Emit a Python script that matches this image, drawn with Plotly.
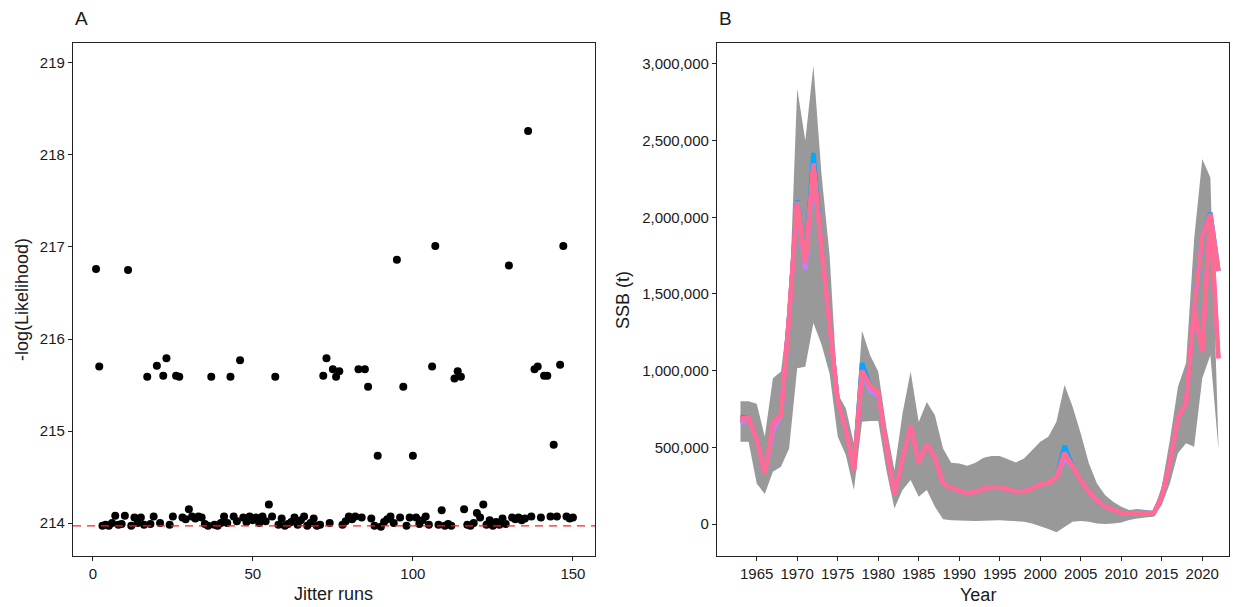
import plotly.graph_objects as go

# ---------------- Panel A data ----------------
jitter_runs = list(range(1, 151))
neg_log_like = [
    216.76, 215.70, 213.97, 213.98, 213.97, 214.00, 214.08, 213.98, 213.99, 214.08,
    216.75, 213.97, 214.06, 214.00, 214.06, 213.98, 215.59, 213.99, 214.07, 215.71,
    214.00, 215.60, 215.79, 213.98, 214.07, 215.60, 215.59, 214.06, 214.04, 214.15,
    214.07, 214.05, 214.07, 214.06, 213.99, 213.97, 215.59, 213.98, 213.97, 214.00,
    214.07, 214.00, 215.59, 214.07, 214.02, 215.77, 214.06, 214.01, 214.07, 214.03,
    214.06, 214.00, 214.07, 214.02, 214.20, 214.07, 215.59, 213.98, 214.05, 213.97,
    213.99, 214.01, 214.06, 213.98, 214.03, 214.07, 213.97, 214.00, 214.05, 213.97,
    213.98, 215.60, 215.79, 214.00, 215.67, 215.59, 215.65, 213.98, 214.02, 214.07,
    214.04, 214.07, 215.67, 214.06, 215.67, 215.48, 214.05, 213.97, 214.73, 213.96,
    214.01, 214.04, 214.07, 214.00, 216.86, 214.06, 215.48, 213.97, 214.06, 214.73,
    214.06, 213.99, 214.03, 214.07, 213.98, 215.70, 217.01, 213.98, 214.14, 213.97,
    213.99, 213.97, 215.57, 215.65, 215.59, 214.15, 213.98, 213.97, 214.00, 214.11,
    214.06, 214.20, 213.98, 214.03, 213.97, 214.01, 213.98, 214.05, 213.99, 216.80,
    214.06, 214.04, 214.06, 214.03, 214.05, 218.26, 214.07, 215.67, 215.70, 214.06,
    215.60, 215.60, 214.07, 214.85, 214.07, 215.72, 217.01, 214.07, 214.05, 214.06,
]
min_nll = 213.97
a_xticks = [0, 50, 100, 150]
a_yticks = [214, 215, 216, 217, 218, 219]

# ---------------- Panel B data ----------------
years = list(range(1963, 2023))
ssb_main = [
    690000, 690000, 550000, 330000, 660000, 710000, 1350000, 2100000, 1700000, 2350000,
    1800000, 1280000, 800000, 620000, 350000, 1000000, 900000, 860000, 500000, 195000,
    420000, 640000, 400000, 520000, 430000, 265000, 235000, 215000, 200000, 210000,
    230000, 240000, 238000, 228000, 212000, 215000, 232000, 258000, 268000, 305000,
    465000, 375000, 285000, 210000, 155000, 113000, 90000, 74000, 65000, 72000,
    72000, 70000, 178000, 400000, 690000, 790000, 1400000, 1880000, 2020000, 1650000,
]
# alternative runs that differ in a few years
ssb_alt_changes = {2020: 1130000, 2022: 1080000}
ssb_blue_changes = {1963: 700000, 1970: 2110000, 1972: 2420000, 1978: 1050000,
                    2003: 510000, 2021: 2030000}
ssb_purple_changes = {1963: 660000, 1971: 1660000, 1972: 2310000, 1979: 870000,
                      1980: 840000, 2003: 430000, 1967: 610000}

ci_upper = [
    800000, 800000, 785000, 570000, 950000, 995000, 1420000, 2840000, 2500000, 2990000,
    2280000, 1750000, 850000, 755000, 525000, 1260000, 1100000, 995000, 635000, 350000,
    720000, 995000, 665000, 795000, 710000, 493000, 400000, 395000, 380000, 400000,
    432000, 443000, 443000, 421000, 402000, 428000, 482000, 537000, 569000, 667000,
    906000, 765000, 591000, 396000, 265000, 189000, 145000, 113000, 91000, 98000,
    91000, 87000, 243000, 548000, 895000, 1050000, 1860000, 2380000, 2260000, 510000,
]
ci_lower = [
    537000, 537000, 265000, 196000, 341000, 374000, 493000, 1015000, 1025000, 1310000,
    1170000, 980000, 570000, 450000, 222000, 667000, 671000, 671000, 352000, 102000,
    222000, 287000, 178000, 222000, 113000, 31000, 24000, 22000, 18000, 20000,
    22000, 24000, 24000, 22000, 18000, 15000, 4000, -13000, -33000, -54000,
    -17000, 15000, 20000, 15000, 4000, 0, 4000, 10000, 26000, 37000,
    43000, 48000, 124000, 265000, 461000, 526000, 504000, 950000, 1100000, 490000,
]
b_yticks = [0, 500000, 1000000, 1500000, 2000000, 2500000, 3000000]
b_xticks = list(range(1965, 2025, 5))


def with_changes(base, changes):
    out = list(base)
    for yr, v in changes.items():
        out[years.index(yr)] = v
    return out


ssb_alt = with_changes(ssb_main, ssb_alt_changes)
ssb_blue = with_changes(ssb_main, ssb_blue_changes)
ssb_purple = with_changes(ssb_main, ssb_purple_changes)

# page has an 8px body margin -> shrink figure and offset reference pixels
OFF = 8
W, H = 1239 - OFF, 607 - OFF


def xp(px):
    return (px - OFF) / W


def yp(py):
    return 1 - (py - OFF) / H


FONT = "Liberation Sans, Arial, sans-serif"
TXT = "#1a1a1a"

fig = go.Figure()

# Panel A points
fig.add_trace(go.Scatter(
    x=jitter_runs, y=neg_log_like, mode="markers",
    marker=dict(color="black", size=8, line=dict(width=0)),
    xaxis="x", yaxis="y", hoverinfo="skip"))

# Panel B ribbon
fig.add_trace(go.Scatter(x=years, y=ci_lower, mode="lines", line=dict(width=0, color="#999999"),
                         xaxis="x2", yaxis="y2", hoverinfo="skip"))
fig.add_trace(go.Scatter(x=years, y=ci_upper, mode="lines", line=dict(width=0, color="#999999"),
                         fill="tonexty", fillcolor="#999999",
                         xaxis="x2", yaxis="y2", hoverinfo="skip"))

# Panel B lines (jitter runs)
for vals, col, w in [(ssb_blue, "#00A9FF", 4.5), (ssb_purple, "#C77CFF", 4.5),
                     (ssb_alt, "#FF61C3", 4.5), (ssb_main, "#FF6C91", 4.2),
                     (ssb_alt, "#FF6C91", 4.0)]:
    fig.add_trace(go.Scatter(x=years, y=vals, mode="lines",
                             line=dict(color=col, width=w),
                             xaxis="x2", yaxis="y2", hoverinfo="skip"))

ytop = yp(43)
ybot = yp(555.5)

axis_common = dict(showline=True, mirror=True, linecolor="#222222", linewidth=1.2,
                   ticks="outside", ticklen=4, tickcolor="#222222", tickwidth=1,
                   showgrid=False, zeroline=False,
                   tickfont=dict(family=FONT, size=15, color=TXT))

fig.update_layout(
    width=W, height=H, margin=dict(l=0, r=0, t=0, b=0),
    paper_bgcolor="white", plot_bgcolor="white", showlegend=False,
    xaxis=dict(domain=[xp(73), xp(595)], range=[-6.2, 156.9], tickvals=a_xticks,
               anchor="y", **axis_common),
    yaxis=dict(domain=[ybot, ytop], range=[213.647, 219.217], tickvals=a_yticks,
               anchor="x", **axis_common),
    xaxis2=dict(domain=[xp(717), xp(1229)], range=[1960.1, 2023.3], tickvals=b_xticks,
                anchor="y2", **axis_common),
    yaxis2=dict(domain=[ybot, ytop], range=[-205000, 3136000], tickvals=b_yticks,
                tickformat=",", anchor="x2", **axis_common),
    shapes=[dict(type="line", xref="x domain", x0=0, x1=1, yref="y", y0=min_nll, y1=min_nll,
                 line=dict(color="#FF2020", width=1.2, dash="8px,6px"), layer="above")],
    annotations=[
        dict(text="A", x=xp(73), y=yp(18), xref="paper", yref="paper", showarrow=False,
             xanchor="left", yanchor="middle", font=dict(family=FONT, size=19, color=TXT)),
        dict(text="B", x=xp(717), y=yp(18), xref="paper", yref="paper", showarrow=False,
             xanchor="left", yanchor="middle", font=dict(family=FONT, size=19, color=TXT)),
        dict(text="Jitter runs", x=xp(334), y=yp(594), xref="paper", yref="paper",
             showarrow=False, xanchor="center", yanchor="middle",
             font=dict(family=FONT, size=18, color=TXT)),
        dict(text="Year", x=xp(978), y=yp(595), xref="paper", yref="paper",
             showarrow=False, xanchor="center", yanchor="middle",
             font=dict(family=FONT, size=18, color=TXT)),
        dict(text="-log(Likelihood)", x=xp(22), y=yp(300), xref="paper", yref="paper",
             showarrow=False, textangle=-90, xanchor="center", yanchor="middle",
             font=dict(family=FONT, size=18, color=TXT)),
        dict(text="SSB (t)", x=xp(623), y=yp(300), xref="paper", yref="paper",
             showarrow=False, textangle=-90, xanchor="center", yanchor="middle",
             font=dict(family=FONT, size=18, color=TXT)),
    ],
)

fig.write_html("out.html")
